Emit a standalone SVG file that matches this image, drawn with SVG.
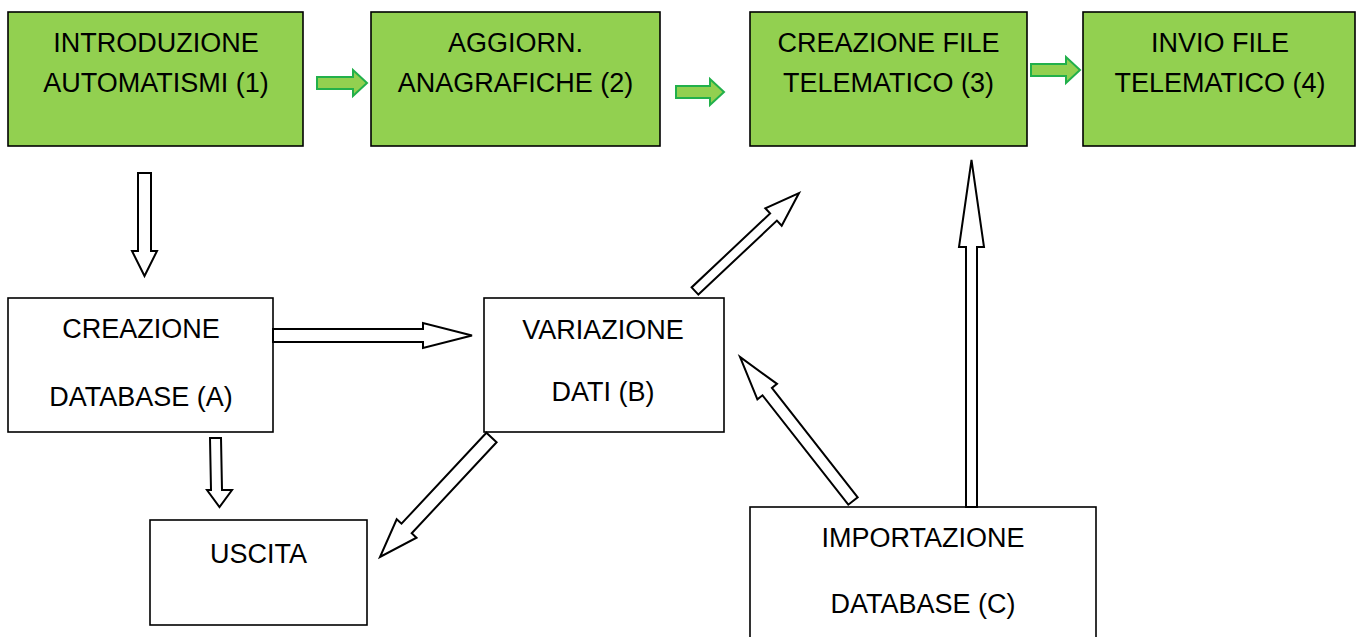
<svg xmlns="http://www.w3.org/2000/svg" width="1362" height="637" viewBox="0 0 1362 637">
<style>
.g{fill:#92d050;stroke:#000;stroke-width:1.6}
.w{fill:#fff;stroke:#000;stroke-width:1.6}
.t{font-family:"Liberation Sans",Arial,sans-serif;font-size:27px;fill:#000;text-anchor:middle}
.ga{fill:#92d050;stroke:#22b04b;stroke-width:2;stroke-linejoin:miter}
.ba{fill:#fff;stroke:#000;stroke-width:2;stroke-linejoin:miter}
</style>
<rect width="1362" height="637" fill="#fff"/>
<g id="n1"><rect class="g" x="8" y="12" width="295" height="134"/><text class="t" x="156" y="52">INTRODUZIONE</text><text class="t" x="156" y="92">AUTOMATISMI (1)</text></g>
<g id="n2"><rect class="g" x="371" y="12" width="289" height="134"/><text class="t" x="515.5" y="52">AGGIORN.</text><text class="t" x="515.5" y="92">ANAGRAFICHE (2)</text></g>
<g id="n3"><rect class="g" x="750" y="12" width="277" height="134"/><text class="t" x="888.5" y="52">CREAZIONE FILE</text><text class="t" x="888.5" y="92">TELEMATICO (3)</text></g>
<g id="n4"><rect class="g" x="1083" y="12" width="272" height="134"/><text class="t" x="1220" y="52">INVIO FILE</text><text class="t" x="1220" y="92">TELEMATICO (4)</text></g>
<g id="nA"><rect class="w" x="8" y="298" width="265" height="134"/><text class="t" x="141" y="338">CREAZIONE</text><text class="t" x="141" y="406">DATABASE (A)</text></g>
<g id="nB"><rect class="w" x="484" y="298" width="240" height="134"/><text class="t" x="603" y="339">VARIAZIONE</text><text class="t" x="603" y="401">DATI (B)</text></g>
<g id="nU"><rect class="w" x="150" y="520" width="217" height="105"/><text class="t" x="258.5" y="563">USCITA</text></g>
<g id="nC"><rect class="w" x="750" y="507" width="346" height="140"/><text class="t" x="923" y="547">IMPORTAZIONE</text><text class="t" x="923" y="613">DATABASE (C)</text></g>
<g id="connectors">
<polygon class="ga" points="317,77 353,77 353,70 367,83 353,96 353,89 317,89"/>
<polygon class="ga" points="676,86 710,86 710,79 724,92 710,105 710,98 676,98"/>
<polygon class="ga" points="1031,64 1066,64 1066,57 1080,70 1066,83 1066,76 1031,76"/>
<polygon class="ba" points="138,173 151,173 151,251 157,251 144.5,276 132,251 138,251"/>
<polygon class="ba" points="273,329 423,329 423,323 472,335.5 423,348 423,342 273,342"/>
<polygon class="ba" points="210,438 221,438 222,490 232,490 219.5,507 207,490 211,490"/>
<polygon class="ba" points="698.4,294.6 776.9,220.6 781.7,225.7 799,193 765.3,208.3 770.1,213.4 691.6,287.4"/>
<polygon class="ba" points="486.4,432.7 401.5,523.7 396.7,519.3 380,557 416.5,537.7 411.7,533.3 496.6,442.3"/>
<polygon class="ba" points="857.7,497.3 771.9,387.9 777,383.9 740,357 757.4,399.3 762.5,395.3 848.3,504.7"/>
<polygon class="ba" points="966,507 966,247 959,247 971.5,160 984,247 977,247 977,507"/>
</g>
</svg>
